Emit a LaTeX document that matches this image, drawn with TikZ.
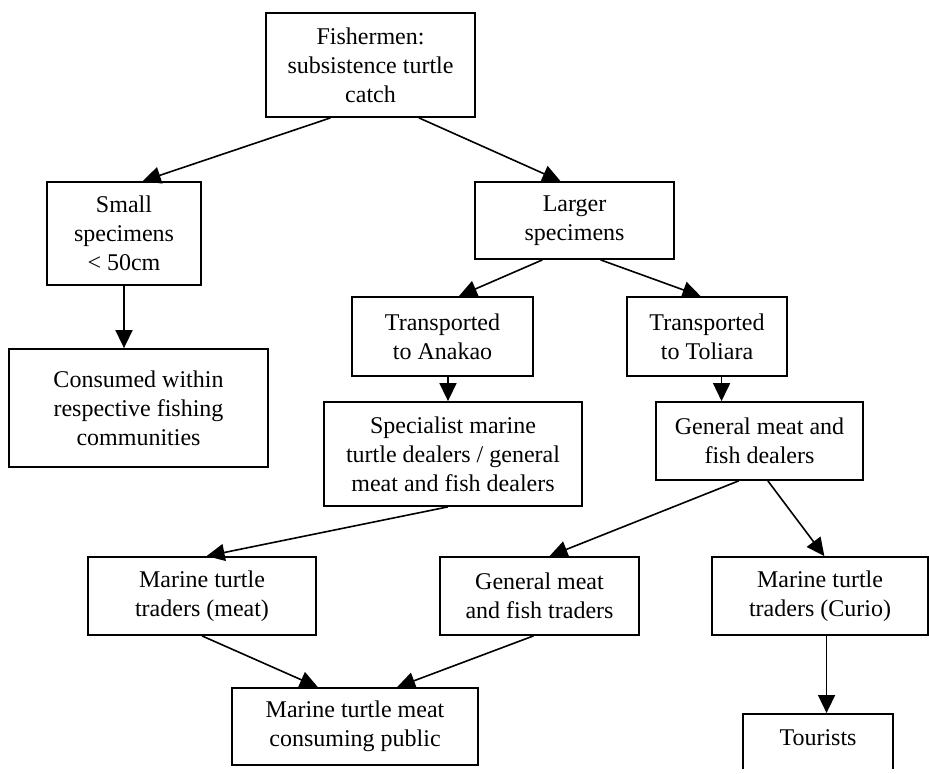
\documentclass[tikz,border=0pt]{standalone}
\usepackage{fontspec}
\setmainfont{Liberation Serif}
\usetikzlibrary{arrows.meta,calc}
\tikzset{every picture/.style={>={Triangle[length=9pt,width=8.5pt]}},
  box/.style={draw,line width=0.9pt,align=center,inner sep=0pt,
    font=\fontsize{12}{14.5}\selectfont},
  flow/.style={->,line width=0.8pt}}

\begin{document}
\begin{tikzpicture}[x=0.5pt,y=-0.5pt]
  \useasboundingbox (0,0) rectangle (929,774);
  \node (fish) [box,minimum width=104.5pt,minimum height=52pt] at (370.5,65) {Fishermen:\\subsistence turtle\\catch};
  \node (small) [box,minimum width=77pt,minimum height=51.5pt] at (124,233.5) {Small\\specimens\\< 50cm};
  \node (large) [box,minimum width=99.5pt,minimum height=38.5pt] at (574.5,220.5) {Larger\\specimens};
  \node (cons) [box,minimum width=129.5pt,minimum height=59pt] at (138.5,408) {Consumed within\\respective fishing\\communities};
  \node (anak) [box,minimum width=90.5pt,minimum height=39.5pt] at (442.5,336.5) {Transported\\to Anakao};
  \node (toli) [box,minimum width=80pt,minimum height=39.5pt] at (707,336.5) {Transported\\to Toliara};
  \node (spec) [box,minimum width=129pt,minimum height=52pt] at (453,454) {Specialist marine\\turtle dealers / general\\meat and fish dealers};
  \node (gdeal) [box,minimum width=103.5pt,minimum height=39pt] at (759.5,441) {General meat and\\fish dealers};
  \node (mmeat) [box,minimum width=114pt,minimum height=39pt] at (202,596) {Marine turtle\\traders (meat)};
  \node (gtrad) [box,minimum width=99.5pt,minimum height=39pt] at (539.5,596) {General meat\\and fish traders};
  \node (curio) [box,minimum width=108pt,minimum height=39pt] at (820,596) {Marine turtle\\traders (Curio)};
  \node (pub) [box,minimum width=123pt,minimum height=38.5pt] at (355,726.5) {Marine turtle meat\\consuming public};
  \begin{scope}
    \clip (0,0) rectangle (929,768);
    \node (tour) [box,anchor=north,minimum width=75pt,text height=16pt,text depth=40pt] at (818,713) {Tourists};
  \end{scope}
  % arrows
  \draw [flow] ($(fish.south west)!.31!(fish.south east)$) -- ($(small.north west)!.62!(small.north east)$);
  \draw [flow] ($(fish.south west)!.73!(fish.south east)$) -- ($(large.north west)!.43!(large.north east)$);
  \draw [flow] (small.south) -- (small.south |- cons.north);
  \draw [flow] ($(large.south west)!.34!(large.south east)$) -- ($(anak.north west)!.59!(anak.north east)$);
  \draw [flow] ($(large.south west)!.63!(large.south east)$) -- ($(toli.north west)!.46!(toli.north east)$);
  \draw [flow] ($(anak.south west)!.53!(anak.south east)$) coordinate (a1) -- (a1 |- spec.north);
  \draw [flow] ($(toli.south west)!.59!(toli.south east)$) coordinate (t1) -- (t1 |- gdeal.north);
  \draw [flow] ($(spec.south west)!.48!(spec.south east)$) -- ($(mmeat.north west)!.52!(mmeat.north east)$);
  \draw [flow] ($(gdeal.south west)!.40!(gdeal.south east)$) -- ($(gtrad.north west)!.55!(gtrad.north east)$);
  \draw [flow] ($(gdeal.south west)!.54!(gdeal.south east)$) -- ($(curio.north west)!.52!(curio.north east)$);
  \draw [flow] (mmeat.south) -- ($(pub.north west)!.35!(pub.north east)$);
  \draw [flow] ($(gtrad.south west)!.47!(gtrad.south east)$) -- ($(pub.north west)!.67!(pub.north east)$);
  \draw [flow] ($(curio.south west)!.53!(curio.south east)$) coordinate (c1) -- (c1 |- tour.north);
\end{tikzpicture}
\end{document}
